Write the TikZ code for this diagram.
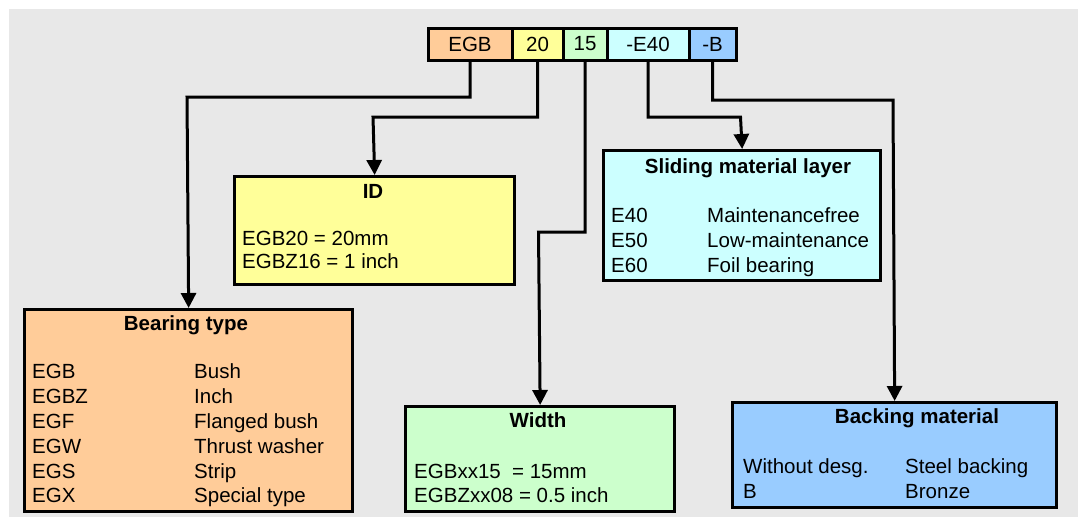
\documentclass[tikz,border=0pt]{standalone}
\usepackage{fontspec}
\setmainfont{Liberation Sans}
\usetikzlibrary{arrows.meta}
\definecolor{bgc}{HTML}{E8E8E8}
\definecolor{corange}{HTML}{FFCC99}
\definecolor{cyellow}{HTML}{FFFF99}
\definecolor{cgreen}{HTML}{CCFFCC}
\definecolor{ccyan}{HTML}{CCFFFF}
\definecolor{cblue}{HTML}{99CCFF}
\begin{document}
\begin{tikzpicture}[x=1pt,y=-1pt,
  codebox/.style={draw=black, line width=3pt, inner sep=0pt, minimum height=32pt,
    font=\fontsize{20.5}{24}\selectfont},
  infobox/.style={draw=black, line width=3.3pt, inner sep=0pt, anchor=north west},
  txt/.style={inner sep=0pt, anchor=base west, font=\fontsize{20.5}{24}\selectfont},
  ttl/.style={inner sep=0pt, anchor=base, font=\fontsize{20.5}{24}\selectfont\bfseries},
  conn/.style={line width=3pt, -{Triangle[length=15pt,width=15pt]}}
]
\useasboundingbox (0,0) rectangle (1078,517);
\fill[bgc] (9,9) rectangle (1078,517);

% code boxes
\node[codebox, fill=corange, minimum width=84pt] (c1) at (470,44) {EGB};
\node[codebox, fill=cyellow, minimum width=51pt] (c2) at (537.5,44) {20};
\node[codebox, fill=cgreen, minimum width=44pt] (c3) at (585,44) {15};
\node[codebox, fill=ccyan, minimum width=82pt] (c4) at (648,44) {-E40};
\node[codebox, fill=cblue, minimum width=47pt] (c5) at (712.5,44) {-B};

% info boxes
\node[infobox, fill=cyellow, minimum width=280pt, minimum height=108pt] (id) at (233,175) {};
\node[infobox, fill=ccyan, minimum width=277pt, minimum height=130pt] (sl) at (602,149) {};
\node[infobox, fill=corange, minimum width=328pt, minimum height=202pt] (bt) at (23,308) {};
\node[infobox, fill=cgreen, minimum width=269pt, minimum height=105pt] (wd) at (404,405) {};
\node[infobox, fill=cblue, minimum width=324pt, minimum height=105pt] (bk) at (731,401) {};

% connectors
\coordinate (k1) at (187,97);
\coordinate (k2) at (373,117);
\coordinate (k3) at (538.5,232);
\coordinate (k4) at (740.5,117);
\coordinate (k5) at (893,100);
\draw[conn] (c1.south) |- (k1) -- (bt.north);
\draw[conn] (c2.south) |- (k2) -- (id.north);
\draw[conn] (c3.south) |- (k3) -- (wd.north);
\draw[conn] (c4.south) |- (k4) -- (sl.north);
\draw[conn] (c5.south) |- (k5) -- (bk.north);

% ID
\node[ttl] (idt) at (373,198) {ID};
\node[txt] (id1) at (242,245) {EGB20 = 20mm};
\node[txt] (id2) at (242,268) {EGBZ16 = 1 inch};

% Sliding material layer
\node[ttl] (slt) at (748,173) {Sliding material layer};
\node[txt] (sl1) at (611,222) {E40};
\node[txt] (sl2) at (611,247) {E50};
\node[txt] (sl3) at (611,272) {E60};
\node[txt] (sl4) at (707,222) {Maintenancefree};
\node[txt] (sl5) at (707,247) {Low-maintenance};
\node[txt] (sl6) at (707,272) {Foil bearing};

% Bearing type
\node[ttl] (btt) at (186,330) {Bearing type};
\node[txt] (b1) at (32,378) {EGB};
\node[txt] (b2) at (32,403) {EGBZ};
\node[txt] (b3) at (32,428) {EGF};
\node[txt] (b4) at (32,453) {EGW};
\node[txt] (b5) at (32,478) {EGS};
\node[txt] (b6) at (32,502) {EGX};
\node[txt] (b7) at (194,378) {Bush};
\node[txt] (b8) at (194,403) {Inch};
\node[txt] (b9) at (194,428) {Flanged bush};
\node[txt] (b10) at (194,453) {Thrust washer};
\node[txt] (b11) at (194,478) {Strip};
\node[txt] (b12) at (194,502) {Special type};

% Width
\node[ttl] (wdt) at (538,427) {Width};
\node[txt] (w1) at (414,478) {EGBxx15~~= 15mm};
\node[txt] (w2) at (414,502) {EGBZxx08 = 0.5 inch};

% Backing material
\node[ttl] (bkt) at (917,423) {Backing material};
\node[txt] (k1t) at (743,473) {Without desg.};
\node[txt] (k2t) at (743,498) {B};
\node[txt] (k3t) at (905,473) {Steel backing};
\node[txt] (k4t) at (905,498) {Bronze};
\end{tikzpicture}
\end{document}
